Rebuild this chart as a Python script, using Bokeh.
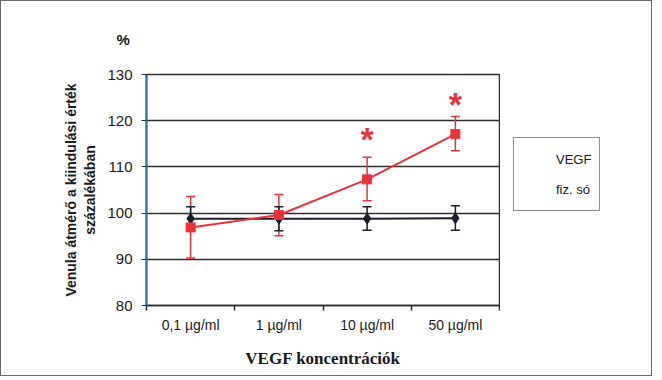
from bokeh.plotting import figure
from bokeh.layouts import row
from bokeh.models import (FactorRange, Range1d, LinearAxis, FixedTicker,
                          ColumnDataSource, Whisker, TeeHead, Legend, LegendItem)
from bokeh.core.properties import value
from bokeh.embed import file_html
from bokeh.resources import INLINE

categories = ["0,1 µg/ml", "1 µg/ml", "10 µg/ml", "50 µg/ml"]
vegf = [96.9, 99.6, 107.3, 117.1]
vegf_lo = [90.3, 95.1, 102.7, 113.5]
vegf_hi = [103.6, 104.0, 112.1, 120.9]
fiz = [98.8, 98.8, 98.8, 98.9]
fiz_lo = [96.2, 96.2, 96.3, 96.3]
fiz_hi = [101.4, 101.4, 101.4, 101.6]
star_cats = ["10 µg/ml", "50 µg/ml"]
star_y = [117.1, 124.8]
star_text = ["*", "*"]
y_ticks = [80, 90, 100, 110, 120, 130]

RED = "#e8323c"
DARK = "#1c1c2a"
GRID = "#2e2e2e"
TXT = "#1a1a1a"
BORDER = "1px solid #6a6a6a"

p = figure(width=500, height=376, output_backend="svg", toolbar_location=None,
           x_range=FactorRange(*categories, range_padding=0), y_range=Range1d(80, 130),
           x_axis_location=None, y_axis_location="left",
           min_border_left=145, min_border_right=2, min_border_top=72, min_border_bottom=72)
p.styles = {"border-left": BORDER, "border-top": BORDER, "border-bottom": BORDER}
p.outline_line_color = GRID
p.outline_line_width = 1.5
p.xgrid.visible = False
p.ygrid.grid_line_color = GRID
p.ygrid.grid_line_width = 1.5
p.ygrid.ticker = FixedTicker(ticks=y_ticks)

ya = p.yaxis[0]
ya.ticker = FixedTicker(ticks=y_ticks)
ya.axis_line_color = "#2f6fb0"
ya.axis_line_width = 2
ya.major_tick_out = 5
ya.major_tick_in = 0
ya.major_tick_line_color = GRID
ya.minor_tick_line_color = None
ya.major_label_standoff = 9
ya.major_label_text_font = "Liberation Sans"
ya.major_label_text_font_size = "15px"
ya.major_label_text_color = TXT
ya.axis_label = "Venula átmérő a kiindulási érték\nszázalékában"
ya.axis_label_standoff = 6
ya.axis_label_text_font = "Liberation Sans"
ya.axis_label_text_font_size = "14px"
ya.axis_label_text_font_style = "bold"
ya.axis_label_text_color = TXT

# x axis: labels at category centres (synthetic coords), small ticks at category edges
centres = [i + 0.5 for i in range(len(categories))]
edges = list(range(len(categories) + 1))
xa = LinearAxis(ticker=FixedTicker(ticks=centres, minor_ticks=edges),
                major_label_overrides={c: lab for c, lab in zip(centres, categories)},
                major_tick_out=5, major_tick_in=0, major_tick_line_color=None,
                minor_tick_out=5, minor_tick_in=0, minor_tick_line_color=GRID, minor_tick_line_width=1.5,
                axis_line_color=GRID, axis_line_width=1.5, major_label_standoff=6,
                major_label_text_font="Liberation Sans", major_label_text_font_size="14px",
                major_label_text_color=TXT,
                axis_label="VEGF koncentrációk", axis_label_standoff=13,
                axis_label_text_font="Liberation Serif", axis_label_text_font_size="17px",
                axis_label_text_font_style="bold", axis_label_text_color=TXT)
p.add_layout(xa, "below")

src = ColumnDataSource(dict(x=categories, vegf=vegf, vlo=vegf_lo, vhi=vegf_hi,
                            fiz=fiz, flo=fiz_lo, fhi=fiz_hi))

p.add_layout(Whisker(source=src, base="x", lower="vlo", upper="vhi", line_color=RED, line_width=1.5,
                     upper_head=TeeHead(size=9, line_color=RED, line_width=1.5),
                     lower_head=TeeHead(size=9, line_color=RED, line_width=1.5)))
p.add_layout(Whisker(source=src, base="x", lower="flo", upper="fhi", line_color=DARK, line_width=1.5,
                     upper_head=TeeHead(size=9, line_color=DARK, line_width=1.5),
                     lower_head=TeeHead(size=9, line_color=DARK, line_width=1.5)))

p.line("x", "fiz", source=src, line_color=DARK, line_width=2)
p.scatter("x", "fiz", source=src, marker="diamond", size=11, fill_color=DARK, line_color=DARK)
p.line("x", "vegf", source=src, line_color=RED, line_width=2)
p.scatter("x", "vegf", source=src, marker="square", size=9, fill_color=RED, line_color=RED)

stars = ColumnDataSource(dict(x=star_cats, y=star_y, t=star_text))
p.text("x", "y", text="t", source=stars, text_color=RED, text_font_size="34px",
       text_font_style="bold", text_align="center", text_baseline="middle", y_offset=5,
       text_font=value("Liberation Sans"))

p.title.text = "%"
p.title.align = "left"
p.title.offset = -30
p.title.standoff = 54
p.title.text_font = "Liberation Sans"
p.title.text_font_size = "15px"
p.title.text_font_style = "bold"
p.title.text_color = TXT

# legend panel to the right of the chart
q = figure(width=152, height=376, output_backend="svg", toolbar_location=None,
           x_axis_location=None, y_axis_location=None, min_border=0)
q.styles = {"border-right": BORDER, "border-top": BORDER, "border-bottom": BORDER}
q.grid.visible = False
q.outline_line_color = None
empty = ColumnDataSource(dict(x=[], y=[]))
ql1 = q.line("x", "y", source=empty, line_color=RED, line_width=2)
qs1 = q.scatter("x", "y", source=empty, marker="square", size=9, fill_color=RED, line_color=RED)
qlv = q.line("x", "y", source=empty, line_color=DARK, line_width=2)
qsv = q.scatter("x", "y", source=empty, marker="diamond", size=11, fill_color=DARK, line_color=DARK)
legend = Legend(items=[LegendItem(label="VEGF", renderers=[ql1, qs1]),
                       LegendItem(label="fiz. só", renderers=[qlv, qsv])],
                location=(13, 94), orientation="vertical",
                border_line_color=DARK, border_line_width=1.5, background_fill_alpha=1,
                glyph_width=31, glyph_height=26, label_height=26,
                label_standoff=3, spacing=4, padding=8, margin=0,
                label_text_font="Liberation Sans", label_text_font_size="13px",
                label_text_color=TXT)
q.add_layout(legend, "center")

open("out.html", "w").write(file_html(row(p, q), INLINE))
